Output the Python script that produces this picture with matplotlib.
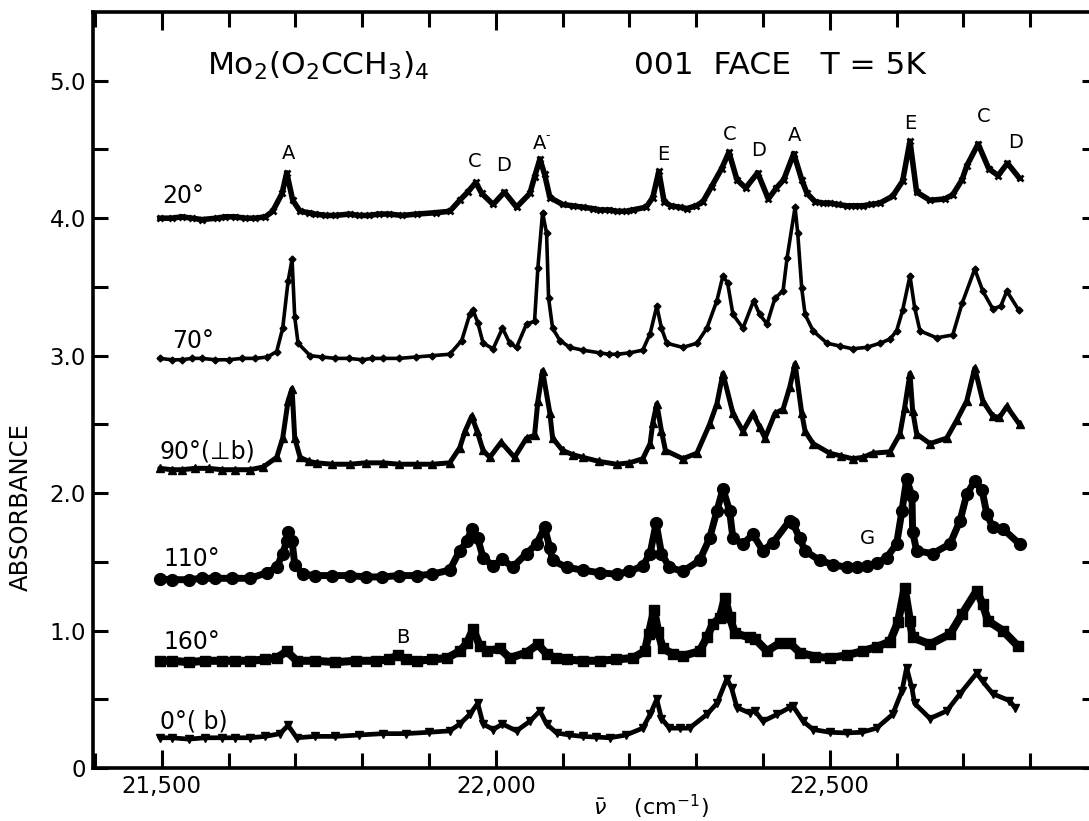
import matplotlib.pyplot as plt
from matplotlib.ticker import MultipleLocator, FixedLocator, FixedFormatter

plt.rcParams['font.family'] = ['DejaVu Sans']
plt.rcParams['mathtext.fontset'] = 'dejavusans'

# spectra: (wavenumber cm-1, absorbance incl. offset)
wn_20 = [21497, 21515, 21530, 21545, 21560, 21582, 21595, 21610, 21625, 21640, 21655, 21666,
         21680, 21687, 21696, 21707, 21720, 21730, 21745, 21760, 21781, 21795, 21810, 21825,
         21840, 21860, 21882, 21910, 21931, 21946, 21958, 21970, 21979, 21996, 22013, 22031,
         22051, 22058, 22066, 22073, 22081, 22100, 22115, 22130, 22145, 22156, 22170, 22181,
         22195, 22205, 22225, 22235, 22244, 22252, 22262, 22275, 22286, 22300, 22310, 22323,
         22338, 22349, 22361, 22374, 22392, 22408, 22420, 22431, 22446, 22458, 22466, 22478,
         22490, 22500, 22512, 22525, 22537, 22549, 22562, 22575, 22594, 22609, 22620, 22630,
         22650, 22672, 22684, 22698, 22705, 22722, 22738, 22752, 22766, 22784]
abs_20 = [4.00, 4.00, 4.01, 4.00, 3.99, 4.00, 4.01, 4.01, 4.00, 4.00, 4.01, 4.05,
          4.18, 4.33, 4.13, 4.05, 4.04, 4.03, 4.02, 4.02, 4.03, 4.02, 4.02, 4.03,
          4.03, 4.02, 4.03, 4.04, 4.05, 4.13, 4.19, 4.26, 4.18, 4.10, 4.19, 4.08,
          4.18, 4.30, 4.43, 4.32, 4.15, 4.10, 4.09, 4.08, 4.07, 4.06, 4.06, 4.05,
          4.05, 4.06, 4.08, 4.15, 4.34, 4.12, 4.09, 4.08, 4.07, 4.09, 4.12, 4.23,
          4.36, 4.48, 4.28, 4.22, 4.33, 4.14, 4.22, 4.28, 4.47, 4.28, 4.18, 4.12,
          4.11, 4.11, 4.10, 4.09, 4.09, 4.09, 4.10, 4.11, 4.16, 4.27, 4.56, 4.19,
          4.13, 4.14, 4.17, 4.28, 4.38, 4.54, 4.36, 4.31, 4.40, 4.29]

wn_70 = [21497, 21515, 21530, 21545, 21560, 21580, 21600, 21620, 21640, 21658, 21672, 21681,
         21689, 21695, 21699, 21704, 21722, 21740, 21760, 21780, 21800, 21815, 21831, 21855,
         21880, 21905, 21931, 21949, 21961, 21966, 21973, 21981, 21996, 22010, 22021, 22031,
         22046, 22058, 22063, 22070, 22076, 22079, 22085, 22096, 22111, 22130, 22156, 22170,
         22181, 22200, 22220, 22231, 22241, 22248, 22256, 22280, 22301, 22316, 22331, 22340,
         22347, 22355, 22370, 22386, 22395, 22406, 22418, 22430, 22436, 22448, 22452, 22458,
         22463, 22475, 22496, 22515, 22534, 22555, 22575, 22590, 22600, 22609, 22620, 22627,
         22635, 22660, 22684, 22698, 22717, 22729, 22744, 22756, 22765, 22783]
abs_70 = [2.98, 2.97, 2.97, 2.98, 2.98, 2.97, 2.97, 2.98, 2.98, 2.99, 3.03, 3.20,
          3.54, 3.70, 3.28, 3.09, 3.00, 2.99, 2.98, 2.98, 2.97, 2.98, 2.98, 2.98,
          2.99, 3.00, 3.01, 3.11, 3.30, 3.33, 3.24, 3.09, 3.05, 3.20, 3.09, 3.06,
          3.23, 3.25, 3.64, 4.04, 3.89, 3.42, 3.20, 3.11, 3.06, 3.04, 3.02, 3.01,
          3.01, 3.02, 3.04, 3.16, 3.36, 3.20, 3.09, 3.06, 3.09, 3.20, 3.40, 3.58,
          3.53, 3.30, 3.20, 3.40, 3.30, 3.23, 3.42, 3.47, 3.71, 4.08, 3.89, 3.49,
          3.30, 3.18, 3.09, 3.07, 3.05, 3.06, 3.09, 3.12, 3.18, 3.33, 3.58, 3.35,
          3.18, 3.13, 3.15, 3.38, 3.63, 3.47, 3.34, 3.36, 3.47, 3.33]

wn_90 = [21497, 21515, 21530, 21550, 21570, 21590, 21610, 21632, 21652, 21672, 21681, 21689,
         21695, 21699, 21707, 21720, 21732, 21755, 21781, 21805, 21831, 21855, 21882, 21905,
         21931, 21946, 21954, 21964, 21972, 21981, 21991, 22008, 22028, 22046, 22058, 22063,
         22070, 22081, 22085, 22100, 22115, 22130, 22155, 22181, 22200, 22220, 22231, 22235,
         22241, 22248, 22254, 22280, 22301, 22320, 22331, 22340, 22355, 22370, 22385, 22395,
         22403, 22418, 22430, 22440, 22448, 22458, 22463, 22475, 22500, 22517, 22534, 22550,
         22564, 22590, 22605, 22612, 22620, 22624, 22630, 22650, 22675, 22690, 22705, 22717,
         22729, 22744, 22754, 22765, 22784]
abs_90 = [2.18, 2.17, 2.17, 2.18, 2.18, 2.17, 2.17, 2.17, 2.19, 2.26, 2.40, 2.67,
          2.76, 2.40, 2.26, 2.23, 2.22, 2.21, 2.21, 2.22, 2.22, 2.21, 2.21, 2.21,
          2.22, 2.33, 2.45, 2.56, 2.45, 2.31, 2.26, 2.37, 2.26, 2.40, 2.42, 2.67,
          2.89, 2.58, 2.40, 2.31, 2.28, 2.26, 2.23, 2.21, 2.22, 2.25, 2.36, 2.51,
          2.65, 2.45, 2.31, 2.25, 2.29, 2.50, 2.65, 2.87, 2.58, 2.45, 2.58, 2.48,
          2.40, 2.58, 2.61, 2.77, 2.94, 2.58, 2.45, 2.36, 2.29, 2.27, 2.25, 2.26,
          2.29, 2.30, 2.43, 2.62, 2.87, 2.60, 2.43, 2.36, 2.40, 2.53, 2.67, 2.91,
          2.67, 2.56, 2.55, 2.63, 2.50]

wn_110 = [21497, 21515, 21540, 21560, 21580, 21605, 21632, 21657, 21672, 21681, 21687, 21689,
          21695, 21699, 21711, 21730, 21755, 21781, 21805, 21830, 21855, 21882, 21905, 21931,
          21946, 21957, 21964, 21973, 21981, 21996, 22010, 22025, 22046, 22061, 22073, 22081,
          22085, 22106, 22130, 22156, 22181, 22200, 22220, 22231, 22240, 22248, 22260, 22280,
          22305, 22320, 22331, 22340, 22350, 22355, 22370, 22385, 22400, 22415, 22440, 22445,
          22455, 22463, 22485, 22505, 22525, 22540, 22555, 22570, 22585, 22600, 22608, 22615,
          22623, 22624, 22630, 22654, 22680, 22695, 22705, 22717, 22728, 22735, 22744, 22759,
          22784]
abs_110 = [1.375, 1.37, 1.37, 1.38, 1.38, 1.38, 1.38, 1.42, 1.46, 1.56, 1.65, 1.72,
           1.65, 1.48, 1.41, 1.40, 1.40, 1.40, 1.39, 1.39, 1.40, 1.40, 1.41, 1.44,
           1.58, 1.65, 1.74, 1.67, 1.53, 1.47, 1.52, 1.46, 1.56, 1.63, 1.75, 1.60,
           1.51, 1.46, 1.44, 1.42, 1.41, 1.43, 1.47, 1.56, 1.78, 1.56, 1.46, 1.43,
           1.51, 1.67, 1.87, 2.03, 1.87, 1.67, 1.63, 1.70, 1.58, 1.64, 1.80, 1.78,
           1.67, 1.58, 1.51, 1.48, 1.46, 1.46, 1.47, 1.49, 1.53, 1.63, 1.87, 2.10,
           1.98, 1.72, 1.58, 1.56, 1.63, 1.80, 1.99, 2.09, 2.02, 1.85, 1.75, 1.74,
           1.63]

wn_160 = [21497, 21515, 21540, 21565, 21590, 21610, 21632, 21655, 21672, 21687, 21702, 21730,
          21760, 21790, 21820, 21840, 21853, 21866, 21882, 21905, 21927, 21946, 21957, 21966,
          21976, 21987, 22006, 22021, 22046, 22063, 22076, 22090, 22106, 22130, 22156, 22180,
          22205, 22223, 22229, 22237, 22243, 22250, 22265, 22280, 22305, 22316, 22325, 22335,
          22343, 22350, 22358, 22380, 22388, 22406, 22425, 22440, 22455, 22478, 22500, 22525,
          22549, 22570, 22590, 22602, 22612, 22620, 22624, 22650, 22680, 22698, 22720, 22729,
          22737, 22759, 22781]
abs_160 = [0.78, 0.78, 0.77, 0.78, 0.78, 0.78, 0.78, 0.79, 0.80, 0.85, 0.78, 0.78,
           0.77, 0.78, 0.78, 0.79, 0.82, 0.79, 0.78, 0.79, 0.80, 0.85, 0.91, 1.01,
           0.89, 0.85, 0.87, 0.80, 0.84, 0.90, 0.83, 0.80, 0.79, 0.78, 0.78, 0.79,
           0.80, 0.85, 0.975, 1.15, 0.99, 0.87, 0.83, 0.815, 0.85, 0.95, 1.05, 1.09,
           1.24, 1.10, 0.98, 0.95, 0.94, 0.85, 0.91, 0.91, 0.84, 0.81, 0.80, 0.82,
           0.85, 0.88, 0.92, 1.06, 1.31, 1.07, 0.95, 0.90, 0.975, 1.12, 1.29, 1.19,
           1.07, 1.00, 0.89]

wn_0 = [21497, 21515, 21540, 21565, 21590, 21610, 21632, 21655, 21677, 21689, 21702, 21730,
        21760, 21795, 21831, 21865, 21900, 21931, 21946, 21961, 21973, 21981, 21996, 22010,
        22031, 22051, 22066, 22076, 22091, 22110, 22130, 22150, 22171, 22195, 22220, 22231,
        22241, 22248, 22260, 22275, 22290, 22316, 22331, 22346, 22353, 22361, 22380, 22388,
        22400, 22421, 22440, 22445, 22460, 22475, 22500, 22525, 22548, 22570, 22594, 22608,
        22615, 22623, 22627, 22650, 22675, 22695, 22720, 22729, 22744, 22769, 22777]
abs_0 = [0.22, 0.22, 0.21, 0.22, 0.22, 0.22, 0.22, 0.23, 0.25, 0.31, 0.22, 0.23,
         0.23, 0.24, 0.25, 0.25, 0.26, 0.27, 0.32, 0.39, 0.47, 0.32, 0.28, 0.32,
         0.27, 0.34, 0.415, 0.32, 0.255, 0.24, 0.23, 0.225, 0.22, 0.24, 0.29, 0.39,
         0.50, 0.36, 0.29, 0.29, 0.29, 0.39, 0.47, 0.65, 0.58, 0.44, 0.40, 0.415,
         0.34, 0.39, 0.44, 0.45, 0.34, 0.28, 0.26, 0.255, 0.26, 0.29, 0.39, 0.56,
         0.73, 0.58, 0.47, 0.36, 0.415, 0.54, 0.69, 0.63, 0.54, 0.49, 0.44]

trace_names = ['20°', '70°', '90°(⊥b)', '110°', '160°', '0°( b)']
trace_label_pos = [(21501, 4.16), (21516, 3.11), (21497, 2.30), (21502, 1.52), (21503, 0.92), (21497, 0.335)]

peak_labels = ['A', 'C', 'D', 'A', 'E', 'C', 'D', 'A', 'E', 'C', 'D']
peak_label_pos = [(21690, 4.47), (21969, 4.41), (22012, 4.38), (22066, 4.54), (22250, 4.46),
                  (22350, 4.61), (22393, 4.49), (22447, 4.60), (22620, 4.69), (22730, 4.74),
                  (22778, 4.55)]

fig = plt.figure(figsize=(10.89, 8.21), dpi=100)
ax = fig.add_axes([93 / 1089, 53 / 821, 1004 / 1089, 756 / 821])

series = [(wn_20, abs_20, dict(marker='x', ms=4.5, mew=2, lw=4)),
          (wn_70, abs_70, dict(marker='D', ms=3.5, lw=2.6)),
          (wn_90, abs_90, dict(marker='^', ms=5.5, lw=3.6)),
          (wn_110, abs_110, dict(marker='o', ms=8.5, lw=5)),
          (wn_160, abs_160, dict(marker='s', ms=7, lw=5.8)),
          (wn_0, abs_0, dict(marker='v', ms=6, lw=3.4))]
for x, y, kw in series:
    ax.plot(x, y, color='black', solid_joinstyle='round', solid_capstyle='round', **kw)

for name, (x, y) in zip(trace_names, trace_label_pos):
    ax.text(x, y, name, fontsize=17, ha='left', va='center')

for lab, (x, y) in zip(peak_labels, peak_label_pos):
    ax.text(x, y, lab, fontsize=14, ha='center', va='center')
ax.text(22078, 4.60, '-', fontsize=9, ha='center', va='center')
ax.text(22557, 1.67, 'G', fontsize=14, ha='center', va='center')
ax.text(21861, 0.95, 'B', fontsize=14, ha='center', va='center')

ax.text(21568, 5.11, r'Mo$_2$(O$_2$CCH$_3$)$_4$', fontsize=22.5, ha='left', va='center')
ax.text(22207, 5.11, '001  FACE   T = 5K', fontsize=22.5, ha='left', va='center')

ax.set_xlim(21397, 22900)
ax.set_ylim(0, 5.5)

ax.xaxis.set_major_locator(FixedLocator([21500, 22000, 22500]))
ax.xaxis.set_major_formatter(FixedFormatter(['21,500', '22,000', '22,500']))
ax.xaxis.set_minor_locator(MultipleLocator(100))
ax.set_yticks([0, 0.5, 1, 1.5, 2, 2.5, 3, 3.5, 4, 4.5, 5])
ax.set_yticklabels(['0', '', '1.0', '', '2.0', '', '3.0', '', '4.0', '', '5.0'])

ax.tick_params(which='both', direction='in', top=True, right=True, width=2.2, labelsize=16.5)
ax.tick_params(which='major', length=13, pad=5)
ax.tick_params(which='minor', length=11)
ax.tick_params(axis='y', which='major', length=11)
for s in ax.spines.values():
    s.set_linewidth(2.6)

ax.text(-0.072, 1.9, 'ABSORBANCE', transform=ax.get_yaxis_transform(), rotation=90,
        fontsize=17.5, ha='center', va='center')
ax.text(22232, -0.28, r'$\bar{\nu}$    (cm$^{-1}$)', fontsize=16, ha='center', va='center')

fig.savefig('out.png', dpi=100)
